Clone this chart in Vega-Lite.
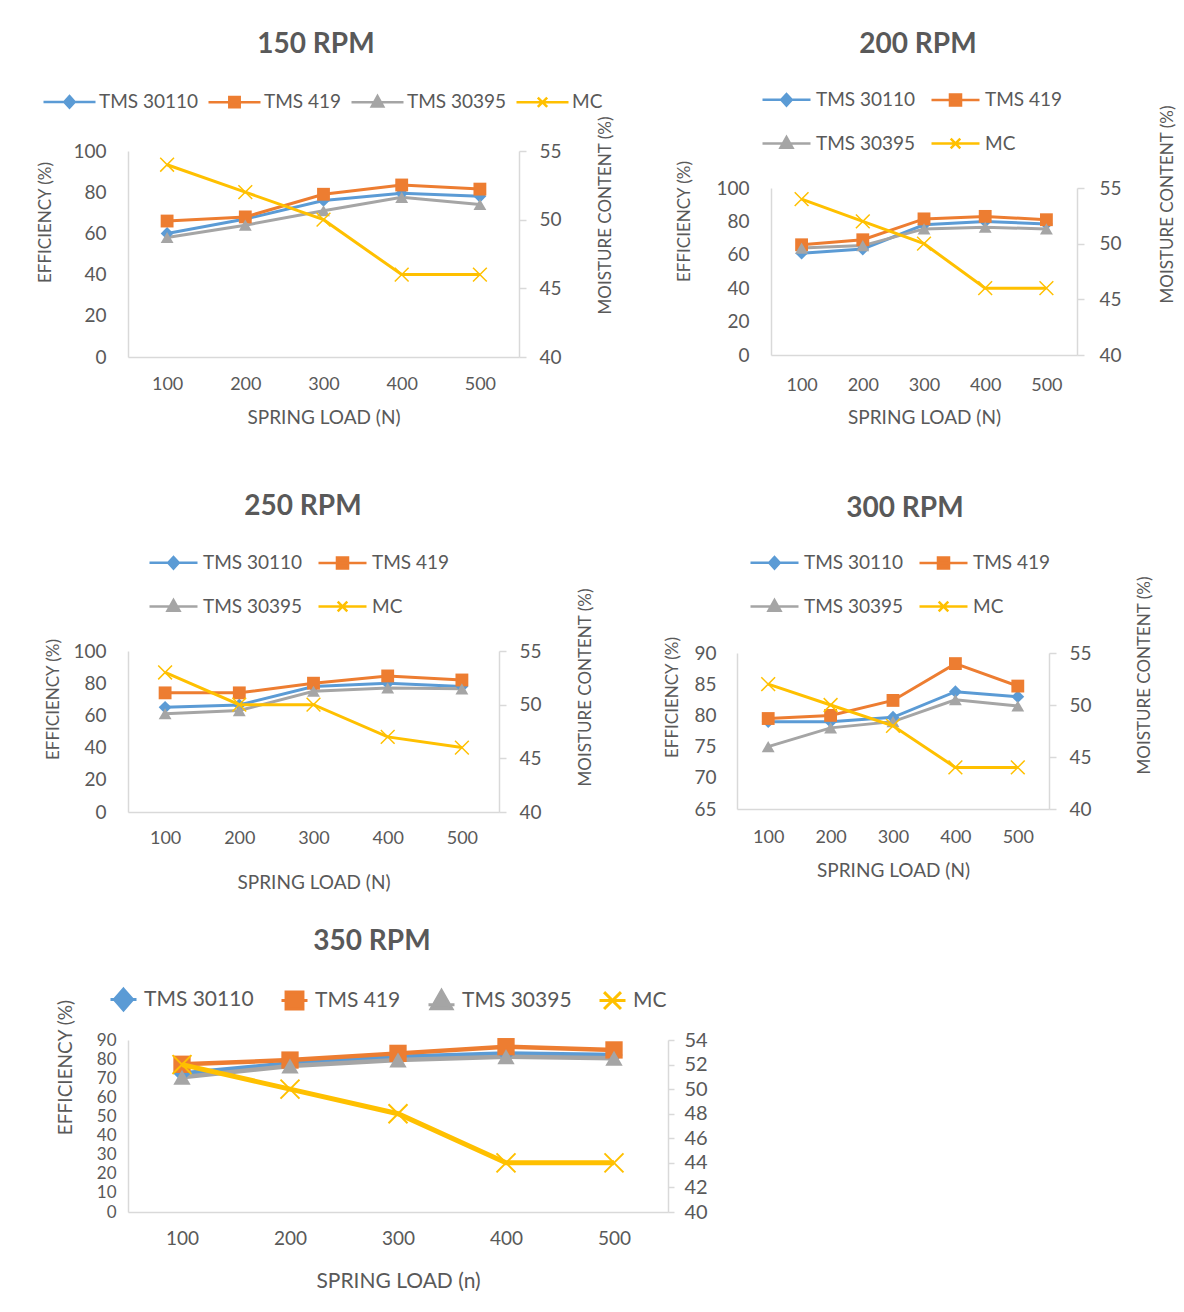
{
  "$schema": "https://vega.github.io/schema/vega-lite/v6.json",
  "background": "white",
  "padding": {"left": 36, "top": 20, "right": 0, "bottom": 0},
  "datasets": {
    "titles": [
      {"rpm": 150, "title": "150 RPM"}, {"rpm": 200, "title": "200 RPM"}, {"rpm": 250, "title": "250 RPM"}, {"rpm": 300, "title": "300 RPM"}
    ],
    "main": [
    {"rpm":150,"series":"TMS 30110","load":100,"value":60},{"rpm":150,"series":"TMS 30110","load":200,"value":67},{"rpm":150,"series":"TMS 30110","load":300,"value":76},{"rpm":150,"series":"TMS 30110","load":400,"value":79.5},{"rpm":150,"series":"TMS 30110","load":500,"value":78},
    {"rpm":150,"series":"TMS 419","load":100,"value":66},{"rpm":150,"series":"TMS 419","load":200,"value":68},{"rpm":150,"series":"TMS 419","load":300,"value":79},{"rpm":150,"series":"TMS 419","load":400,"value":83.5},{"rpm":150,"series":"TMS 419","load":500,"value":81.5},
    {"rpm":150,"series":"TMS 30395","load":100,"value":58},{"rpm":150,"series":"TMS 30395","load":200,"value":64},{"rpm":150,"series":"TMS 30395","load":300,"value":71},{"rpm":150,"series":"TMS 30395","load":400,"value":77.5},{"rpm":150,"series":"TMS 30395","load":500,"value":74},
    {"rpm":150,"series":"MC","load":100,"value":54},{"rpm":150,"series":"MC","load":200,"value":52},{"rpm":150,"series":"MC","load":300,"value":50},{"rpm":150,"series":"MC","load":400,"value":46},{"rpm":150,"series":"MC","load":500,"value":46},
    {"rpm":200,"series":"TMS 30110","load":100,"value":61},{"rpm":200,"series":"TMS 30110","load":200,"value":63.5},{"rpm":200,"series":"TMS 30110","load":300,"value":78},{"rpm":200,"series":"TMS 30110","load":400,"value":80},{"rpm":200,"series":"TMS 30110","load":500,"value":78.5},
    {"rpm":200,"series":"TMS 419","load":100,"value":66},{"rpm":200,"series":"TMS 419","load":200,"value":69},{"rpm":200,"series":"TMS 419","load":300,"value":81.5},{"rpm":200,"series":"TMS 419","load":400,"value":83},{"rpm":200,"series":"TMS 419","load":500,"value":81},
    {"rpm":200,"series":"TMS 30395","load":100,"value":64},{"rpm":200,"series":"TMS 30395","load":200,"value":65.5},{"rpm":200,"series":"TMS 30395","load":300,"value":75.5},{"rpm":200,"series":"TMS 30395","load":400,"value":76.5},{"rpm":200,"series":"TMS 30395","load":500,"value":75.5},
    {"rpm":200,"series":"MC","load":100,"value":54},{"rpm":200,"series":"MC","load":200,"value":52},{"rpm":200,"series":"MC","load":300,"value":50},{"rpm":200,"series":"MC","load":400,"value":46},{"rpm":200,"series":"MC","load":500,"value":46},
    {"rpm":250,"series":"TMS 30110","load":100,"value":65},{"rpm":250,"series":"TMS 30110","load":200,"value":66.5},{"rpm":250,"series":"TMS 30110","load":300,"value":78},{"rpm":250,"series":"TMS 30110","load":400,"value":80},{"rpm":250,"series":"TMS 30110","load":500,"value":78},
    {"rpm":250,"series":"TMS 419","load":100,"value":74},{"rpm":250,"series":"TMS 419","load":200,"value":74},{"rpm":250,"series":"TMS 419","load":300,"value":80},{"rpm":250,"series":"TMS 419","load":400,"value":84.5},{"rpm":250,"series":"TMS 419","load":500,"value":82},
    {"rpm":250,"series":"TMS 30395","load":100,"value":61},{"rpm":250,"series":"TMS 30395","load":200,"value":63},{"rpm":250,"series":"TMS 30395","load":300,"value":75},{"rpm":250,"series":"TMS 30395","load":400,"value":77},{"rpm":250,"series":"TMS 30395","load":500,"value":76.5},
    {"rpm":250,"series":"MC","load":100,"value":53},{"rpm":250,"series":"MC","load":200,"value":50},{"rpm":250,"series":"MC","load":300,"value":50},{"rpm":250,"series":"MC","load":400,"value":47},{"rpm":250,"series":"MC","load":500,"value":46},
    {"rpm":300,"series":"TMS 30110","load":100,"value":79},{"rpm":300,"series":"TMS 30110","load":200,"value":79},{"rpm":300,"series":"TMS 30110","load":300,"value":79.7},{"rpm":300,"series":"TMS 30110","load":400,"value":83.8},{"rpm":300,"series":"TMS 30110","load":500,"value":83},
    {"rpm":300,"series":"TMS 419","load":100,"value":79.5},{"rpm":300,"series":"TMS 419","load":200,"value":80},{"rpm":300,"series":"TMS 419","load":300,"value":82.4},{"rpm":300,"series":"TMS 419","load":400,"value":88.3},{"rpm":300,"series":"TMS 419","load":500,"value":84.7},
    {"rpm":300,"series":"TMS 30395","load":100,"value":75},{"rpm":300,"series":"TMS 30395","load":200,"value":78},{"rpm":300,"series":"TMS 30395","load":300,"value":79},{"rpm":300,"series":"TMS 30395","load":400,"value":82.5},{"rpm":300,"series":"TMS 30395","load":500,"value":81.5},
    {"rpm":300,"series":"MC","load":100,"value":52},{"rpm":300,"series":"MC","load":200,"value":50},{"rpm":300,"series":"MC","load":300,"value":48},{"rpm":300,"series":"MC","load":400,"value":44},{"rpm":300,"series":"MC","load":500,"value":44},
    {"rpm":350,"series":"TMS 30110","load":100,"value":72.5},{"rpm":350,"series":"TMS 30110","load":200,"value":77.8},{"rpm":350,"series":"TMS 30110","load":300,"value":81.3},{"rpm":350,"series":"TMS 30110","load":400,"value":83},{"rpm":350,"series":"TMS 30110","load":500,"value":82.2},
    {"rpm":350,"series":"TMS 419","load":100,"value":77.3},{"rpm":350,"series":"TMS 419","load":200,"value":79.5},{"rpm":350,"series":"TMS 419","load":300,"value":83},{"rpm":350,"series":"TMS 419","load":400,"value":86.5},{"rpm":350,"series":"TMS 419","load":500,"value":84.8},
    {"rpm":350,"series":"TMS 30395","load":100,"value":70.5},{"rpm":350,"series":"TMS 30395","load":200,"value":76.4},{"rpm":350,"series":"TMS 30395","load":300,"value":79.5},{"rpm":350,"series":"TMS 30395","load":400,"value":81.3},{"rpm":350,"series":"TMS 30395","load":500,"value":80.4},
    {"rpm":350,"series":"MC","load":100,"value":52},{"rpm":350,"series":"MC","load":200,"value":50},{"rpm":350,"series":"MC","load":300,"value":48},{"rpm":350,"series":"MC","load":400,"value":44},{"rpm":350,"series":"MC","load":500,"value":44}
    ]
  },
  "data": {"name": "main"},
  "columns": 1,
  "align": "none",
  "spacing": 36,
  "resolve": {"scale": {"color": "independent", "shape": "independent"}, "legend": {"color": "independent", "shape": "independent"}},
  "concat": [
    {
      "columns": 2,
      "align": "none",
      "spacing": {"row": 14, "column": 61},
      "resolve": {"scale": {"color": "independent", "shape": "independent"}, "legend": {"color": "independent", "shape": "independent"}},
      "concat": [
        {
          "width": 376, "height": 40,
          "data": {"name": "titles"},
          "transform": [{"filter": "datum.rpm === 150"}],
          "mark": {"type": "text", "font": "Lato", "fontSize": 28, "fontWeight": "bold", "color": "#595959", "dy": 5},
          "encoding": {"text": {"field": "title", "type": "nominal"}}
        },
        {
          "width": 486, "height": 40,
          "data": {"name": "titles"},
          "transform": [{"filter": "datum.rpm === 200"}],
          "mark": {"type": "text", "font": "Lato", "fontSize": 28, "fontWeight": "bold", "color": "#595959", "dy": 5},
          "encoding": {"text": {"field": "title", "type": "nominal"}}
        },
        {
          "width": 391, "height": 206,
          "transform": [{"filter": "datum.rpm === 150"}],
          "encoding": {
            "x": {"field": "load", "type": "ordinal", "scale": {"type": "point", "padding": 0.5},
                  "axis": {"title": "SPRING LOAD (N)", "labelAngle": 0, "labelFontSize": 18, "titleFontSize": 19, "labelPadding": 18, "titlePadding": 15, "ticks": false}},
            "color": {"field": "series", "type": "nominal",
                      "scale": {"domain": ["TMS 30110", "TMS 419", "TMS 30395", "MC"], "range": ["#5B9BD5", "#ED7D31", "#A5A5A5", "#FFC000"]},
                      "legend": {"orient": "none", "legendX": -86, "legendY": -77, "direction": "horizontal", "columns": 4, "title": null,
                                 "symbolSize": 2704, "symbolStrokeWidth": 2.5, "labelFontSize": 19, "labelOffset": 2, "columnPadding": 4,
                                 "encode": {"symbols": {"update": {
                                   "shape": {"signal": "datum.value === 'TMS 30110' ? 'M-1,0H1M0,-0.22L0.2,0L0,0.22L-0.2,0Z' : datum.value === 'TMS 419' ? 'M-1,0H1M-0.2,-0.2H0.2V0.2H-0.2Z' : datum.value === 'TMS 30395' ? 'M-1,0H1M0,-0.24L0.22,0.16H-0.22Z' : 'M-1,0H1M-0.18,-0.18L0.18,0.18M-0.18,0.18L0.18,-0.18'"},
                                   "fill": {"signal": "datum.value === 'TMS 30110' ? '#5B9BD5' : datum.value === 'TMS 419' ? '#ED7D31' : datum.value === 'TMS 30395' ? '#A5A5A5' : '#FFC000'"},
                                   "stroke": {"signal": "datum.value === 'TMS 30110' ? '#5B9BD5' : datum.value === 'TMS 419' ? '#ED7D31' : datum.value === 'TMS 30395' ? '#A5A5A5' : '#FFC000'"},
                                   "opacity": {"value": 1}}}}}}
          },
          "layer": [
            {
              "transform": [{"filter": "datum.series !== 'MC'"}],
              "encoding": {"y": {"field": "value", "type": "quantitative", "scale": {"domain": [0, 100]},
                                 "axis": {"title": "EFFICIENCY (%)", "orient": "left", "values": [0, 20, 40, 60, 80, 100], "labelFontSize": 19, "titleFontSize": 17, "labelPadding": 22, "ticks": false, "titlePadding": 18, "titleY": 71}}},
              "layer": [
                {"mark": {"type": "line", "strokeWidth": 3}},
                {"mark": {"type": "point", "filled": true, "opacity": 1, "size": 165},
                 "encoding": {"shape": {"field": "series", "type": "nominal", "scale": {"domain": ["TMS 30110", "TMS 419", "TMS 30395"], "range": ["diamond", "square", "triangle-up"]}, "legend": null}}}
              ]
            },
            {
              "transform": [{"filter": "datum.series === 'MC'"}],
              "encoding": {"y": {"field": "value", "type": "quantitative", "scale": {"domain": [40, 55]},
                                 "axis": {"title": "MOISTURE CONTENT (%)", "orient": "right", "values": [40, 45, 50, 55], "labelFontSize": 19, "titleFontSize": 17, "ticks": true, "tickSize": 7, "labelPadding": 13, "titlePadding": 36, "titleAngle": 270, "titleBaseline": "top", "titleY": 64}}},
              "layer": [
                {"mark": {"type": "line", "strokeWidth": 3}},
                {"mark": {"type": "point", "filled": false, "shape": "M-1,-1L1,1M-1,1L1,-1", "size": 190, "strokeWidth": 1.5, "opacity": 1}}
              ]
            }
          ],
          "resolve": {"scale": {"y": "independent"}}
        },
        {
          "width": 306, "height": 167,
          "transform": [{"filter": "datum.rpm === 200"}],
          "encoding": {
            "x": {"field": "load", "type": "ordinal", "scale": {"type": "point", "padding": 0.5},
                  "axis": {"title": "SPRING LOAD (N)", "labelAngle": 0, "labelFontSize": 18, "titleFontSize": 19, "labelPadding": 21, "titlePadding": 14, "ticks": false}},
            "color": {"field": "series", "type": "nominal",
                      "scale": {"domain": ["TMS 30110", "TMS 419", "TMS 30395", "MC"], "range": ["#5B9BD5", "#ED7D31", "#A5A5A5", "#FFC000"]},
                      "legend": {"orient": "none", "legendX": -10, "legendY": -114, "direction": "horizontal", "columns": 2, "title": null,
                                 "symbolSize": 2304, "symbolStrokeWidth": 2.5, "labelFontSize": 19, "labelOffset": 4, "columnPadding": 10, "rowPadding": 7,
                                 "encode": {"symbols": {"update": {
                                   "shape": {"signal": "datum.value === 'TMS 30110' ? 'M-1,0H1M0,-0.24L0.22,0L0,0.24L-0.22,0Z' : datum.value === 'TMS 419' ? 'M-1,0H1M-0.23,-0.23H0.23V0.23H-0.23Z' : datum.value === 'TMS 30395' ? 'M-1,0H1M0,-0.27L0.25,0.18H-0.25Z' : 'M-1,0H1M-0.2,-0.2L0.2,0.2M-0.2,0.2L0.2,-0.2'"},
                                   "fill": {"signal": "datum.value === 'TMS 30110' ? '#5B9BD5' : datum.value === 'TMS 419' ? '#ED7D31' : datum.value === 'TMS 30395' ? '#A5A5A5' : '#FFC000'"},
                                   "stroke": {"signal": "datum.value === 'TMS 30110' ? '#5B9BD5' : datum.value === 'TMS 419' ? '#ED7D31' : datum.value === 'TMS 30395' ? '#A5A5A5' : '#FFC000'"},
                                   "opacity": {"value": 1}}}}}}
          },
          "layer": [
            {
              "transform": [{"filter": "datum.series !== 'MC'"}],
              "encoding": {"y": {"field": "value", "type": "quantitative", "scale": {"domain": [0, 100]},
                                 "axis": {"title": "EFFICIENCY (%)", "orient": "left", "values": [0, 20, 40, 60, 80, 100], "labelFontSize": 19, "titleFontSize": 17, "labelPadding": 22, "ticks": false, "titlePadding": 22, "titleY": 33}}},
              "layer": [
                {"mark": {"type": "line", "strokeWidth": 3}},
                {"mark": {"type": "point", "filled": true, "opacity": 1, "size": 165},
                 "encoding": {"shape": {"field": "series", "type": "nominal", "scale": {"domain": ["TMS 30110", "TMS 419", "TMS 30395"], "range": ["diamond", "square", "triangle-up"]}, "legend": null}}}
              ]
            },
            {
              "transform": [{"filter": "datum.series === 'MC'"}],
              "encoding": {"y": {"field": "value", "type": "quantitative", "scale": {"domain": [40, 55]},
                                 "axis": {"title": "MOISTURE CONTENT (%)", "orient": "right", "values": [40, 45, 50, 55], "labelFontSize": 19, "titleFontSize": 17, "ticks": true, "tickSize": 7, "labelPadding": 15, "titlePadding": 38, "titleAngle": 270, "titleBaseline": "top", "titleY": 16}}},
              "layer": [
                {"mark": {"type": "line", "strokeWidth": 3}},
                {"mark": {"type": "point", "filled": false, "shape": "M-1,-1L1,1M-1,1L1,-1", "size": 190, "strokeWidth": 1.5, "opacity": 1}}
              ]
            }
          ],
          "resolve": {"scale": {"y": "independent"}}
        }
      ]
    },
    {
      "columns": 2,
      "align": "none",
      "spacing": {"row": 14, "column": 69},
      "resolve": {"scale": {"color": "independent", "shape": "independent"}, "legend": {"color": "independent", "shape": "independent"}},
      "concat": [
        {
          "width": 350, "height": 59,
          "data": {"name": "titles"},
          "transform": [{"filter": "datum.rpm === 250"}],
          "mark": {"type": "text", "font": "Lato", "fontSize": 28, "fontWeight": "bold", "color": "#595959", "dy": 14},
          "encoding": {"text": {"field": "title", "type": "nominal"}}
        },
        {
          "width": 484, "height": 59,
          "data": {"name": "titles"},
          "transform": [{"filter": "datum.rpm === 300"}],
          "mark": {"type": "text", "font": "Lato", "fontSize": 28, "fontWeight": "bold", "color": "#595959", "dy": 16},
          "encoding": {"text": {"field": "title", "type": "nominal"}}
        },
        {
          "width": 371, "height": 161,
          "transform": [{"filter": "datum.rpm === 250"}],
          "encoding": {
            "x": {"field": "load", "type": "ordinal", "scale": {"type": "point", "padding": 0.5},
                  "axis": {"title": "SPRING LOAD (N)", "labelAngle": 0, "labelFontSize": 18, "titleFontSize": 19, "labelPadding": 17, "titlePadding": 26, "ticks": false}},
            "color": {"field": "series", "type": "nominal",
                      "scale": {"domain": ["TMS 30110", "TMS 419", "TMS 30395", "MC"], "range": ["#5B9BD5", "#ED7D31", "#A5A5A5", "#FFC000"]},
                      "legend": {"orient": "none", "legendX": 20, "legendY": -114, "direction": "horizontal", "columns": 2, "title": null,
                                 "symbolSize": 2304, "symbolStrokeWidth": 2.5, "labelFontSize": 19, "labelOffset": 4, "columnPadding": 10, "rowPadding": 7,
                                 "encode": {"symbols": {"update": {
                                   "shape": {"signal": "datum.value === 'TMS 30110' ? 'M-1,0H1M0,-0.24L0.22,0L0,0.24L-0.22,0Z' : datum.value === 'TMS 419' ? 'M-1,0H1M-0.23,-0.23H0.23V0.23H-0.23Z' : datum.value === 'TMS 30395' ? 'M-1,0H1M0,-0.27L0.25,0.18H-0.25Z' : 'M-1,0H1M-0.2,-0.2L0.2,0.2M-0.2,0.2L0.2,-0.2'"},
                                   "fill": {"signal": "datum.value === 'TMS 30110' ? '#5B9BD5' : datum.value === 'TMS 419' ? '#ED7D31' : datum.value === 'TMS 30395' ? '#A5A5A5' : '#FFC000'"},
                                   "stroke": {"signal": "datum.value === 'TMS 30110' ? '#5B9BD5' : datum.value === 'TMS 419' ? '#ED7D31' : datum.value === 'TMS 30395' ? '#A5A5A5' : '#FFC000'"},
                                   "opacity": {"value": 1}}}}}}
          },
          "layer": [
            {
              "transform": [{"filter": "datum.series !== 'MC'"}],
              "encoding": {"y": {"field": "value", "type": "quantitative", "scale": {"domain": [0, 100]},
                                 "axis": {"title": "EFFICIENCY (%)", "orient": "left", "values": [0, 20, 40, 60, 80, 100], "labelFontSize": 19, "titleFontSize": 17, "labelPadding": 22, "ticks": false, "titlePadding": 10, "titleY": 48}}},
              "layer": [
                {"mark": {"type": "line", "strokeWidth": 3}},
                {"mark": {"type": "point", "filled": true, "opacity": 1, "size": 165},
                 "encoding": {"shape": {"field": "series", "type": "nominal", "scale": {"domain": ["TMS 30110", "TMS 419", "TMS 30395"], "range": ["diamond", "square", "triangle-up"]}, "legend": null}}}
              ]
            },
            {
              "transform": [{"filter": "datum.series === 'MC'"}],
              "encoding": {"y": {"field": "value", "type": "quantitative", "scale": {"domain": [40, 55]},
                                 "axis": {"title": "MOISTURE CONTENT (%)", "orient": "right", "values": [40, 45, 50, 55], "labelFontSize": 19, "titleFontSize": 17, "ticks": true, "tickSize": 7, "labelPadding": 13, "titlePadding": 36, "titleAngle": 270, "titleBaseline": "top", "titleY": 36}}},
              "layer": [
                {"mark": {"type": "line", "strokeWidth": 3}},
                {"mark": {"type": "point", "filled": false, "shape": "M-1,-1L1,1M-1,1L1,-1", "size": 190, "strokeWidth": 1.5, "opacity": 1}}
              ]
            }
          ],
          "resolve": {"scale": {"y": "independent"}}
        },
        {
          "width": 312, "height": 156,
          "transform": [{"filter": "datum.rpm === 300"}],
          "encoding": {
            "x": {"field": "load", "type": "ordinal", "scale": {"type": "point", "padding": 0.5},
                  "axis": {"title": "SPRING LOAD (N)", "labelAngle": 0, "labelFontSize": 18, "titleFontSize": 19, "labelPadding": 19, "titlePadding": 15, "ticks": false}},
            "color": {"field": "series", "type": "nominal",
                      "scale": {"domain": ["TMS 30110", "TMS 419", "TMS 30395", "MC"], "range": ["#5B9BD5", "#ED7D31", "#A5A5A5", "#FFC000"]},
                      "legend": {"orient": "none", "legendX": 12, "legendY": -116, "direction": "horizontal", "columns": 2, "title": null,
                                 "symbolSize": 2304, "symbolStrokeWidth": 2.5, "labelFontSize": 19, "labelOffset": 4, "columnPadding": 10, "rowPadding": 7,
                                 "encode": {"symbols": {"update": {
                                   "shape": {"signal": "datum.value === 'TMS 30110' ? 'M-1,0H1M0,-0.24L0.22,0L0,0.24L-0.22,0Z' : datum.value === 'TMS 419' ? 'M-1,0H1M-0.23,-0.23H0.23V0.23H-0.23Z' : datum.value === 'TMS 30395' ? 'M-1,0H1M0,-0.27L0.25,0.18H-0.25Z' : 'M-1,0H1M-0.2,-0.2L0.2,0.2M-0.2,0.2L0.2,-0.2'"},
                                   "fill": {"signal": "datum.value === 'TMS 30110' ? '#5B9BD5' : datum.value === 'TMS 419' ? '#ED7D31' : datum.value === 'TMS 30395' ? '#A5A5A5' : '#FFC000'"},
                                   "stroke": {"signal": "datum.value === 'TMS 30110' ? '#5B9BD5' : datum.value === 'TMS 419' ? '#ED7D31' : datum.value === 'TMS 30395' ? '#A5A5A5' : '#FFC000'"},
                                   "opacity": {"value": 1}}}}}}
          },
          "layer": [
            {
              "transform": [{"filter": "datum.series !== 'MC'"}],
              "encoding": {"y": {"field": "value", "type": "quantitative", "scale": {"domain": [65, 90]},
                                 "axis": {"title": "EFFICIENCY (%)", "orient": "left", "values": [65, 70, 75, 80, 85, 90], "labelFontSize": 19, "titleFontSize": 17, "labelPadding": 21, "ticks": false, "titlePadding": 12, "titleY": 44}}},
              "layer": [
                {"mark": {"type": "line", "strokeWidth": 3}},
                {"mark": {"type": "point", "filled": true, "opacity": 1, "size": 165},
                 "encoding": {"shape": {"field": "series", "type": "nominal", "scale": {"domain": ["TMS 30110", "TMS 419", "TMS 30395"], "range": ["diamond", "square", "triangle-up"]}, "legend": null}}}
              ]
            },
            {
              "transform": [{"filter": "datum.series === 'MC'"}],
              "encoding": {"y": {"field": "value", "type": "quantitative", "scale": {"domain": [40, 55]},
                                 "axis": {"title": "MOISTURE CONTENT (%)", "orient": "right", "values": [40, 45, 50, 55], "labelFontSize": 19, "titleFontSize": 17, "ticks": true, "tickSize": 7, "labelPadding": 13, "titlePadding": 45, "titleAngle": 270, "titleBaseline": "top", "titleY": 22}}},
              "layer": [
                {"mark": {"type": "line", "strokeWidth": 3}},
                {"mark": {"type": "point", "filled": false, "shape": "M-1,-1L1,1M-1,1L1,-1", "size": 190, "strokeWidth": 1.5, "opacity": 1}}
              ]
            }
          ],
          "resolve": {"scale": {"y": "independent"}}
        }
      ]
    },
    {
      "width": 540, "height": 172,
      "title": {"text": "350 RPM", "offset": 29, "fontSize": 28, "dx": -26},
      "transform": [{"filter": "datum.rpm === 350"}],
      "encoding": {
        "x": {"field": "load", "type": "ordinal", "scale": {"type": "point", "padding": 0.5},
              "axis": {"title": "SPRING LOAD (n)", "labelAngle": 0, "labelFontSize": 19, "titleFontSize": 21, "labelPadding": 17, "titlePadding": 22, "ticks": false}},
        "color": {"field": "series", "type": "nominal",
                  "scale": {"domain": ["TMS 30110", "TMS 419", "TMS 30395", "MC"], "range": ["#5B9BD5", "#ED7D31", "#A5A5A5", "#FFC000"]},
                  "legend": {"orient": "none", "legendX": -19, "legendY": -55, "direction": "horizontal", "columns": 4, "title": null,
                             "symbolSize": 676, "symbolStrokeWidth": 3, "labelFontSize": 21, "labelOffset": 6, "columnPadding": 21,
                             "encode": {"symbols": {"update": {
                               "shape": {"signal": "datum.value === 'TMS 30110' ? 'M-1,0H1M0,-0.8L0.7,0L0,0.8L-0.7,0Z' : datum.value === 'TMS 419' ? 'M-1,0H1M-0.65,-0.65H0.65V0.65H-0.65Z' : datum.value === 'TMS 30395' ? 'M-1,0.3H1M0,-0.8L0.8,0.6H-0.8Z' : 'M-1,0H1M-0.65,-0.65L0.65,0.65M-0.65,0.65L0.65,-0.65'"},
                               "fill": {"signal": "datum.value === 'TMS 30110' ? '#5B9BD5' : datum.value === 'TMS 419' ? '#ED7D31' : datum.value === 'TMS 30395' ? '#A5A5A5' : '#FFC000'"},
                               "stroke": {"signal": "datum.value === 'TMS 30110' ? '#5B9BD5' : datum.value === 'TMS 419' ? '#ED7D31' : datum.value === 'TMS 30395' ? '#A5A5A5' : '#FFC000'"},
                               "opacity": {"value": 1}}}}}}
      },
      "layer": [
        {
          "transform": [{"filter": "datum.series !== 'MC'"}],
          "encoding": {"y": {"field": "value", "type": "quantitative", "scale": {"domain": [0, 90]},
                             "axis": {"title": "EFFICIENCY (%)", "orient": "left", "values": [0, 10, 20, 30, 40, 50, 60, 70, 80, 90], "labelFontSize": 17, "titleFontSize": 19, "labelPadding": 12, "ticks": false, "titlePadding": 21, "titleY": 27, "labelOverlap": false}}},
          "layer": [
            {"mark": {"type": "line", "strokeWidth": 4.5}},
            {"mark": {"type": "point", "filled": true, "opacity": 1, "size": 300},
             "encoding": {"shape": {"field": "series", "type": "nominal", "scale": {"domain": ["TMS 30110", "TMS 419", "TMS 30395"], "range": ["diamond", "square", "triangle-up"]}, "legend": null}}}
          ]
        },
        {
          "transform": [{"filter": "datum.series === 'MC'"}],
          "encoding": {"y": {"field": "value", "type": "quantitative", "scale": {"domain": [40, 54]},
                             "axis": {"title": null, "orient": "right", "values": [40, 42, 44, 46, 48, 50, 52, 54], "labelFontSize": 20, "ticks": true, "tickSize": 6, "labelPadding": 10, "labelOverlap": false}}},
          "layer": [
            {"mark": {"type": "line", "strokeWidth": 5}},
            {"mark": {"type": "point", "filled": false, "shape": "M-1,-1L1,1M-1,1L1,-1", "size": 360, "strokeWidth": 2, "opacity": 1}}
          ]
        }
      ],
      "resolve": {"scale": {"y": "independent"}}
    }
  ],
  "config": {
    "font": "Lato",
    "view": {"stroke": null},
    "axis": {"grid": false, "domainColor": "#d9d9d9", "domainWidth": 1.5, "tickColor": "#d9d9d9", "tickWidth": 1.5, "labelColor": "#595959", "titleColor": "#595959", "labelFont": "Lato", "titleFont": "Lato", "titleFontWeight": "normal"},
    "legend": {"labelColor": "#595959", "labelFont": "Lato"},
    "title": {"font": "Lato", "fontWeight": "bold", "fontSize": 26, "color": "#595959", "anchor": "middle"}
  }
}
